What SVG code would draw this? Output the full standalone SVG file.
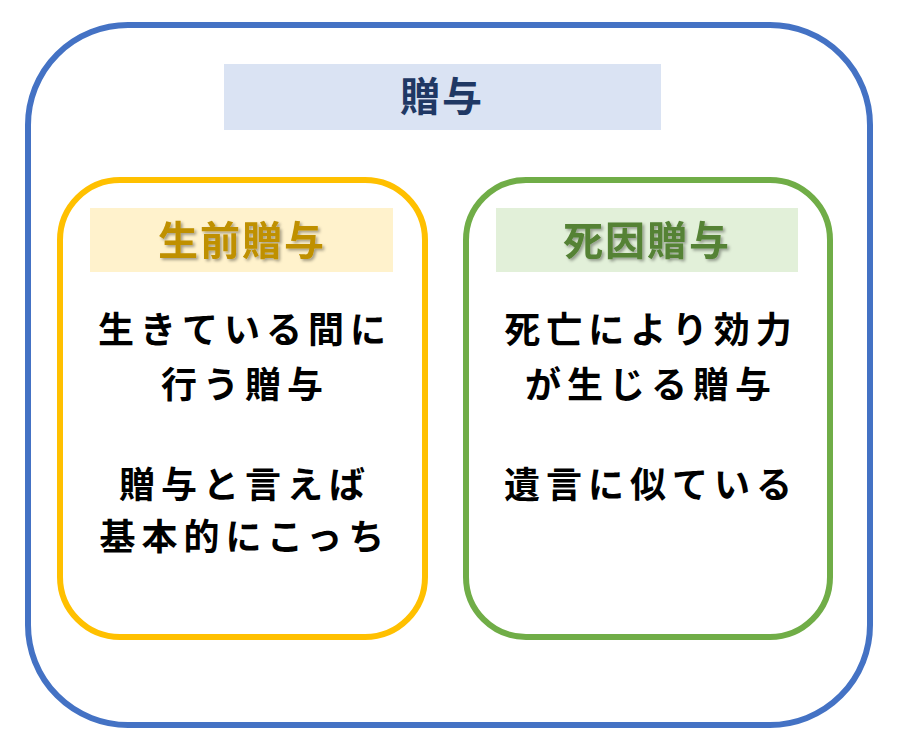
<svg xmlns="http://www.w3.org/2000/svg" width="905" height="736" viewBox="0 0 905 736">
<defs>
<filter id="sh" x="-10%" y="-10%" width="130%" height="140%"><feDropShadow dx="2" dy="2" stdDeviation="1.5" flood-color="#000" flood-opacity="0.35"/></filter>
<style>
text{font-family:"Noto Sans CJK JP","Noto Sans CJK SC",sans-serif;font-weight:bold;text-anchor:middle}
.b{font-size:36px;fill:#000;letter-spacing:6px}
.h{font-size:40px;letter-spacing:2px}
</style>
</defs>
<rect width="905" height="736" fill="#fff"/>
<g id="outer">
<rect x="28" y="25" width="842" height="700" rx="100" fill="none" stroke="#4472C4" stroke-width="6"/>
<rect x="224" y="64" width="437" height="66" fill="#DAE3F3"/>
<text x="442" y="111" class="h" fill="#1F3864">贈与</text>
</g>
<g id="left">
<rect x="60" y="180" width="365" height="457" rx="60" fill="#fff" stroke="#FFC000" stroke-width="6"/>
<rect x="90" y="208" width="303" height="64" fill="#FFF2CC"/>
<text x="242" y="255" class="h" fill="#BF9000" filter="url(#sh)">生前贈与</text>
<text x="245" y="343" class="b">生きている間に</text>
<text x="245" y="398" class="b">行う贈与</text>
<text x="245" y="498" class="b">贈与と言えば</text>
<text x="245" y="550" class="b">基本的にこっち</text>
</g>
<g id="right">
<rect x="466" y="180" width="364" height="457" rx="60" fill="#fff" stroke="#70AD47" stroke-width="6"/>
<rect x="496" y="208" width="302" height="64" fill="#E2F0D9"/>
<text x="647" y="255" class="h" fill="#548235" filter="url(#sh)">死因贈与</text>
<text x="651" y="343" class="b">死亡により効力</text>
<text x="651" y="398" class="b">が生じる贈与</text>
<text x="651" y="498" class="b">遺言に似ている</text>
</g>
<g id="connectors"/>
</svg>
